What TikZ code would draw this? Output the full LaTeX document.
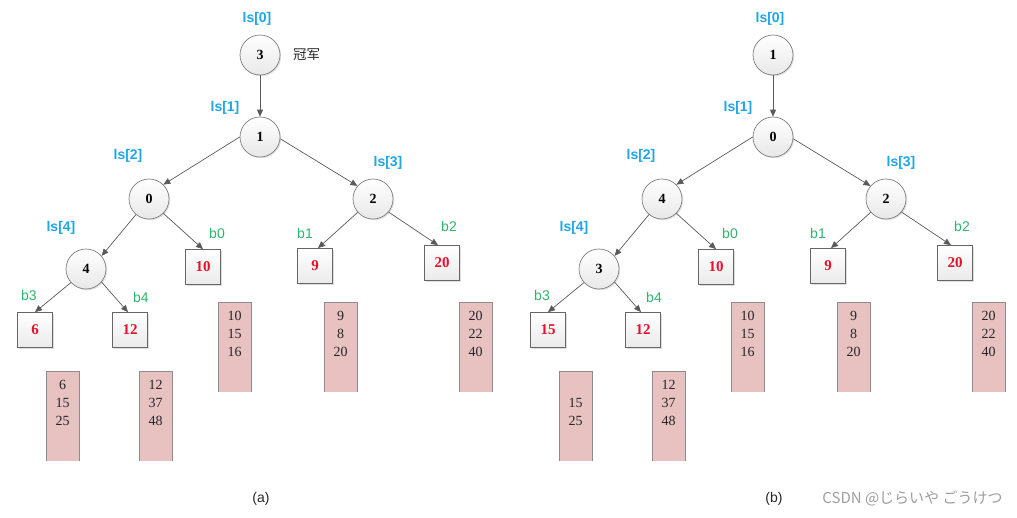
\documentclass[tikz,border=0pt]{standalone}
\usepackage{fontspec}
\setmainfont{Liberation Serif}
\setsansfont{Liberation Sans}
\newfontfamily\cjksc{Noto Sans CJK SC}
\newfontfamily\cjkjp{Noto Sans CJK JP}
\usetikzlibrary{arrows.meta,shadows}
\definecolor{lsblue}{HTML}{1EA6E6}
\definecolor{bgreen}{HTML}{2DB56B}
\definecolor{numred}{HTML}{E8102A}
\definecolor{barpink}{HTML}{E8C1C1}
\definecolor{edgegray}{HTML}{5A5A5A}
\definecolor{wmgray}{HTML}{9E9E9E}
\tikzset{
 treenode/.style={circle, minimum size=40pt, inner sep=0pt, draw=black!50, line width=0.7pt,
   top color=white, bottom color=black!9,
   drop shadow={shadow xshift=1.2pt, shadow yshift=-1.2pt, opacity=0.25},
   font=\fontsize{14}{14}\selectfont\bfseries},
 leafbox/.style={rectangle, minimum size=35pt, inner sep=0pt, draw=black!60, line width=0.7pt,
   top color=white, bottom color=black!8,
   drop shadow={shadow xshift=1.2pt, shadow yshift=-1.2pt, opacity=0.25},
   text=numred, font=\fontsize{15}{15}\selectfont\bfseries},
 lslabel/.style={text=lsblue, inner sep=0pt, font=\fontsize{14}{14}\selectfont\sffamily\bfseries},
 blabel/.style={text=bgreen, inner sep=0pt, font=\fontsize{14}{14}\selectfont\sffamily},
 link/.style={draw=edgegray, line width=0.7pt, -{Triangle[length=7pt,width=6pt]}},
 barnum/.style={font=\fontsize{14}{14}\selectfont, text=black!85, anchor=base, inner sep=0pt},
 barfill/.style={fill=barpink},
 baredge/.style={draw=black!45, line width=0.7pt},
 caption/.style={inner sep=0pt, font=\fontsize{14}{14}\selectfont\sffamily, text=black!85},
}
\newcommand\drawbar[6]{% name, x-left, y-top, line1, line2, line3
  \fill[barfill] (#2,#3) rectangle ++(33,90);
  \draw[baredge] (#2,#3+90) -- (#2,#3) -- (#2+33,#3) -- (#2+33,#3+90);
  \node[barnum] (#1l1) at (#2+16.5,#3+18) {#4};
  \node[barnum] (#1l2) at (#2+16.5,#3+36) {#5};
  \node[barnum] (#1l3) at (#2+16.5,#3+54) {#6};
}
\newcommand\drawtree[8]{% prefix, xshift, root, ls1, ls2, ls4, b3 value, b3 bar first line
  \begin{scope}[xshift=#2pt]
    \node[lslabel] (#1L0) at (257,19) {ls[0]};
    \node[lslabel] (#1L1) at (225,108) {ls[1]};
    \node[lslabel] (#1L2) at (128,156) {ls[2]};
    \node[lslabel] (#1L3) at (388,163) {ls[3]};
    \node[lslabel] (#1L4) at (61,228) {ls[4]};
    \node[treenode] (#1n0) at (260,55) {#3};
    \node[treenode] (#1n1) at (260,137) {#4};
    \node[treenode] (#1n2) at (149,199) {#5};
    \node[treenode] (#1n3) at (373,199) {2};
    \node[treenode] (#1n4) at (86,269) {#6};
    \node[leafbox] (#1b0) at (203,267) {10};
    \node[leafbox] (#1b1) at (315,266) {9};
    \node[leafbox] (#1b2) at (442,263) {20};
    \node[leafbox] (#1b3) at (35,330) {#7};
    \node[leafbox] (#1b4) at (130,330) {12};
    \node[blabel] (#1B0) at (217,233) {b0};
    \node[blabel] (#1B1) at (305,233) {b1};
    \node[blabel] (#1B2) at (449,226) {b2};
    \node[blabel] (#1B3) at (29,295) {b3};
    \node[blabel] (#1B4) at (141,297) {b4};
    \draw[link] (#1n0.south) -- (#1n1.north);
    \draw[link] (#1n1.180) -- (#1n2.45);
    \draw[link] (#1n1.-5) -- (#1n3.140);
    \draw[link] (#1n2.230) -- (#1n4.40);
    \draw[link] (#1n2.-45) -- (#1b0.north);
    \draw[link] (#1n3.221) -- ([xshift=3pt]#1b1.north);
    \draw[link] (#1n3.-40) -- ([xshift=-4pt]#1b2.north);
    \draw[link] (#1n4.222) -- (#1b3.north);
    \draw[link] (#1n4.-40) -- ([xshift=-2pt]#1b4.north);
    \drawbar{#1r0}{218}{302}{10}{15}{16}
    \drawbar{#1r1}{324}{302}{9}{8}{20}
    \drawbar{#1r2}{459}{302}{20}{22}{40}
    \drawbar{#1r3}{46}{371}{#8}{15}{25}
    \drawbar{#1r4}{139}{371}{12}{37}{48}
  \end{scope}
}
\begin{document}
\begin{tikzpicture}[x=1pt,y=-1pt]
  \fill[white] (0,0) rectangle (1017,517);
  \useasboundingbox (0,0) rectangle (1017,517);
  \drawtree{a}{0}{3}{1}{0}{4}{6}{6}
  \drawtree{b}{513}{1}{0}{4}{3}{15}{}
  \node[inner sep=0pt, font=\cjksc\fontsize{13.5}{13.5}\selectfont, text=black!85] (champ) at (306.5,55) {冠军};
  \node[caption] (capa) at (261,499) {(a)};
  \node[caption] (capb) at (774,499) {(b)};
  \node[inner sep=0pt, font=\cjkjp\fontsize{15}{15}\selectfont, text=wmgray] (wm) at (912.5,498) {CSDN @じらいや ごうけつ};
\end{tikzpicture}
\end{document}
